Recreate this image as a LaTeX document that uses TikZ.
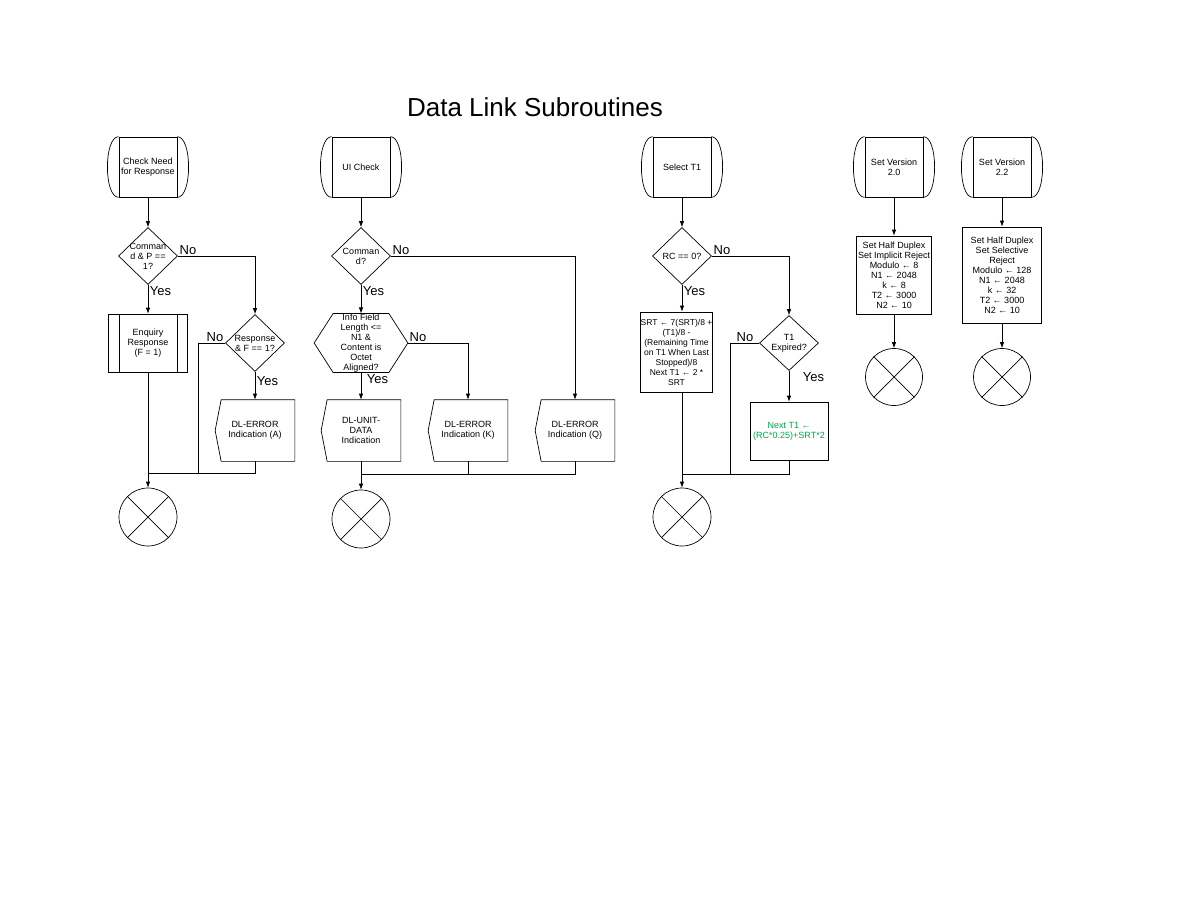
\documentclass[tikz,border=0pt]{standalone}
\usepackage{fontspec}
\setmainfont{Liberation Sans}
\usetikzlibrary{shapes.geometric,arrows.meta}
\definecolor{nextgreen}{RGB}{0,166,81}
\begin{document}
\begin{tikzpicture}[x=1pt,y=-1pt,line width=0.7pt,>={Latex[length=6pt,width=4.5pt]},
  every node/.style={font=\fontsize{9}{10}\selectfont,align=center,inner sep=0pt},
  term/.style={draw,minimum width=58pt,minimum height=60pt},
  proc/.style={draw,minimum width=#1,minimum height=58pt},
  ind/.style={minimum width=79pt,minimum height=61pt},
  dec/.style={diamond,draw,minimum width=59pt,minimum height=57pt},
  endc/.style={circle,draw,minimum size=58pt},
  yn/.style={font=\fontsize{13}{13}\selectfont,inner sep=1.5pt}]
\useasboundingbox (0,0) rectangle (1188,918);
\node[font=\fontsize{26}{26}\selectfont] (title) at (535,107) {Data Link Subroutines};
\node[term] (chk) at (148,167) {Check Need\\for Response};
\node[term] (uic) at (361,167) {UI Check};
\node[term] (selt) at (682,167) {Select T1};
\node[term] (v20) at (894,167) {Set Version\\2.0};
\node[term] (v22) at (1002,167) {Set Version\\2.2};
\foreach \n in {chk,uic,selt,v20,v22}
\draw (\n.north west) .. controls +(-15,0) and +(-15,0) .. (\n.south west)
      (\n.north east) .. controls +(15,0) and +(15,0) .. (\n.south east);
\node[dec,label={center:Comman\\d \& P ==\\1?}] (cmd1) at (148,256) {};
\node[proc=79pt] (enq) at (148,343) {Enquiry\\Response\\(F = 1)};
\draw ([xshift=11pt]enq.north west) -- ([xshift=11pt]enq.south west)
      ([xshift=-11pt]enq.north east) -- ([xshift=-11pt]enq.south east);
\node[dec,label={center:Response\\\& F == 1?}] (rsp) at (255,343) {};
\node[ind] (erra) at (255,430.5) {DL-ERROR\\Indication (A)};
\node[endc] (end1) at (148,517) {};
\node[dec,label={center:Comman\\d?}] (cmd2) at (361,256) {};
\node[minimum width=93pt,minimum height=58pt] (info) at (361,343) {Info Field\\Length <=\\N1 \&\\Content is\\Octet\\Aligned?};
\draw (info.west) -- ([xshift=19pt]info.north west) -- ([xshift=-19pt]info.north east) -- (info.east)
      -- ([xshift=-19pt]info.south east) -- ([xshift=19pt]info.south west) -- cycle;
\node[ind] (unit) at (361,430.5) {DL-UNIT-\\DATA\\Indication};
\node[ind] (errk) at (468,430.5) {DL-ERROR\\Indication (K)};
\node[ind] (errq) at (575,430.5) {DL-ERROR\\Indication (Q)};
\node[endc] (end2) at (361,519) {};
\node[dec,label={center:RC == 0?}] (rc) at (682,256) {};
\node[proc=68pt,minimum height=80pt,font=\fontsize{8.5}{10}\selectfont] (srt) at (676.5,352) {SRT ← 7(SRT)/8 +\\(T1)/8 -\\(Remaining Time\\on T1 When Last\\Stopped)/8\\Next T1 ← 2 *\\SRT};
\node[dec,minimum height=55pt,label={center:T1\\Expired?}] (t1x) at (789,343) {};
\node[proc=78pt,text=nextgreen] (nxt) at (789,431) {Next T1 ←\\(RC*0.25)+SRT*2};
\node[endc] (end3) at (682,517) {};
\node[proc=75pt,minimum height=78pt] (par20) at (894,275) {Set Half Duplex\\Set Implicit Reject\\Modulo ← 8\\N1 ← 2048\\k ← 8\\T2 ← 3000\\N2 ← 10};
\node[endc,minimum size=57pt] (end4) at (894,377) {};
\node[proc=79pt,minimum height=96pt] (par22) at (1002,275) {Set Half Duplex\\Set Selective\\Reject\\Modulo ← 128\\N1 ← 2048\\k ← 32\\T2 ← 3000\\N2 ← 10};
\node[endc,minimum size=57pt] (end5) at (1002,377) {};
\foreach \n in {erra,unit,errk,errq}
\draw ([xshift=6pt]\n.north west) -- (\n.north east) -- (\n.south east) -- ([xshift=6pt]\n.south west) -- (\n.west) -- cycle;
\foreach \n in {end1,end2,end3,end4,end5}
\draw (\n.north west) -- (\n.south east) (\n.north east) -- (\n.south west);
\node[yn,anchor=south west] (no1) at (cmd1.east) {No};
\node[yn,anchor=north west] (yes1) at (cmd1.south) {Yes};
\node[yn,anchor=south east] (no2) at (rsp.west) {No};
\node[yn,anchor=north west] (yes2) at ([yshift=-3pt]rsp.south) {Yes};
\node[yn,anchor=south west] (no3) at (cmd2.east) {No};
\node[yn,anchor=north west] (yes3) at (cmd2.south) {Yes};
\node[yn,anchor=south west] (no4) at (info.east) {No};
\node[yn,anchor=north west] (yes4) at ([xshift=4pt]info.south) {Yes};
\node[yn,anchor=south west] (no5) at (rc.east) {No};
\node[yn,anchor=north west] (yes5) at (rc.south) {Yes};
\node[yn,anchor=south east] (no6) at ([xshift=-4pt]t1x.west) {No};
\node[yn,anchor=north west] (yes6) at ([xshift=12pt]t1x.south) {Yes};
\coordinate (j1) at (148,473);
\coordinate (n1) at (198,473);
\coordinate (j2) at (361,474);
\coordinate (j3) at (682,474);
\coordinate (n3) at (730,474);
\draw[->] (chk) -- (cmd1);
\draw[->] (cmd1) -- (enq);
\draw[->] (cmd1.east) -| (rsp.north);
\draw[->] (rsp) -- (erra);
\draw (erra.south) |- (j1);
\draw (rsp.west) -| (n1);
\draw[->] (enq) -- (end1);
\draw[->] (uic) -- (cmd2);
\draw[->] (cmd2) -- (info);
\draw[->] (cmd2.east) -| (errq.north);
\draw[->] (info.east) -| (errk.north);
\draw[->] (info) -- (unit);
\draw (errq.south) |- (j2);
\draw (errk.south) -- (errk.south |- j2);
\draw[->] (unit) -- (end2);
\draw[->] (selt) -- (rc);
\draw[->] (rc.south) -- (rc.south |- srt.north);
\draw[->] (rc.east) -| (t1x.north);
\draw[->] (t1x) -- (nxt);
\draw (nxt.south) |- (j3);
\draw (t1x.west) -| (n3);
\draw[->] (srt.south -| end3) -- (end3);
\draw[->] (v20) -- (par20);
\draw[->] (par20) -- (end4);
\draw[->] (v22) -- (par22);
\draw[->] (par22) -- (end5);
\end{tikzpicture}
\end{document}
